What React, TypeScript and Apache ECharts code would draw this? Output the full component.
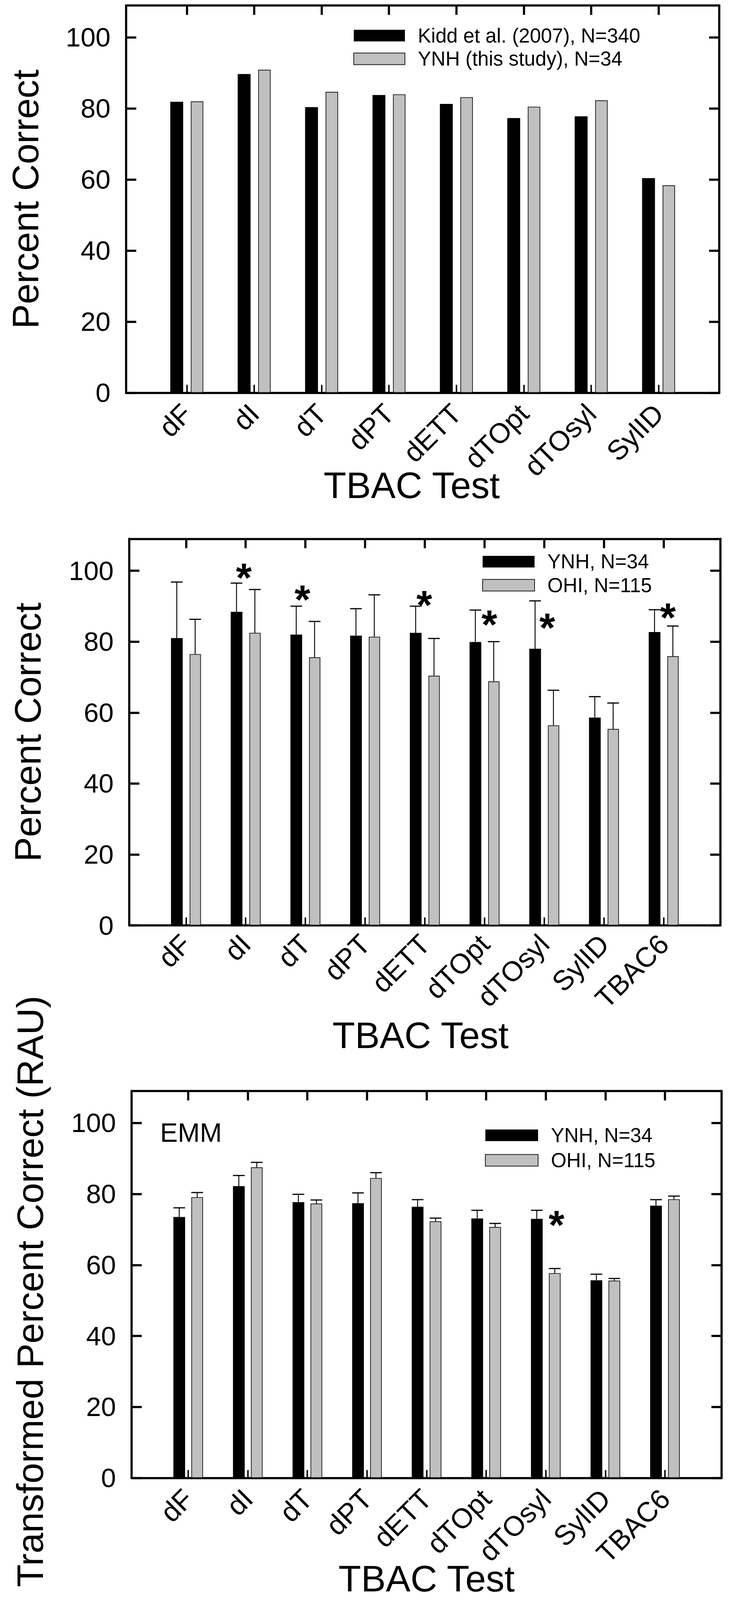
import React, { useEffect, useRef } from "react";
import * as echarts from "echarts";

const FONT = "'Liberation Sans', Arial, Helvetica, sans-serif";

// ---------- data ----------
const catsTop = ["dF", "dI", "dT", "dPT", "dETT", "dTOpt", "dTOsyl", "SylID"];
const catsLower = ["dF", "dI", "dT", "dPT", "dETT", "dTOpt", "dTOsyl", "SylID", "TBAC6"];

const kiddName = "Kidd et al. (2007), N=340";
const ynhStudyName = "YNH (this study), N=34";
const kiddValues = [81.9, 89.7, 80.4, 83.8, 81.3, 77.3, 77.8, 60.4];
const ynhStudyValues = [82.0, 90.9, 84.7, 84.0, 83.2, 80.5, 82.3, 58.4];

const ynhName = "YNH, N=34";
const ohiName = "OHI, N=115";

const pcYnh = [81.0, 88.4, 82.0, 81.7, 82.5, 79.9, 78.0, 58.6, 82.7];
const pcYnhErr = [96.8, 96.5, 90.0, 89.3, 90.0, 88.9, 91.5, 64.5, 89.0];
const pcOhi = [76.5, 82.5, 75.6, 81.4, 70.4, 68.8, 56.4, 55.4, 75.9];
const pcOhiErr = [86.3, 94.7, 85.7, 93.2, 80.9, 80.0, 66.3, 62.7, 84.4];
const pcStarX = [1.97, 2.95, 4.99, 6.08, 7.05, 9.07];
const pcStarY = [100.5, 94.4, 92.8, 87.3, 86.5, 89.3];

const emmYnh = [73.5, 82.2, 77.7, 77.4, 76.4, 73.1, 73.0, 55.7, 76.7];
const emmYnhErr = [76.1, 85.2, 79.9, 80.3, 78.4, 75.4, 75.4, 57.4, 78.4];
const emmOhi = [79.1, 87.5, 77.3, 84.5, 72.3, 70.7, 57.7, 55.6, 78.5];
const emmOhiErr = [80.4, 88.9, 78.3, 86.0, 73.2, 71.7, 59.0, 56.2, 79.4];
const emmStarX = [7.18];
const emmStarY = [73.8];

const yTicks = [0, 20, 40, 60, 80, 100];
const yMax = 109;

// ---------- layout (designed for 1867 x 4407) ----------
const W = 1867;
const H = 4407;
const BLACK = "#000";
const GRAY = "#c0c0c0";

const gridBoxes = [
  { left: 323, top: 15, width: 1519, height: 1067 },
  { left: 331, top: 1484, width: 1514, height: 1065 },
  { left: 337, top: 3005, width: 1511, height: 1066 },
];

function buildOption(sx: number, sy: number) {
  const sf = Math.min(sx, sy);
  const X = (v: number) => v * sx;
  const Y = (v: number) => v * sy;
  const F = (v: number) => v * sf;

  function xAxesFor(
    gridIndex: number,
    cats: string[],
    min: number,
    max: number,
    nameGap: number,
    namePadRight: number,
    labelMargin: number,
    labelPadTop: number
  ) {
    const pos = cats.map((_, i) => i + 1);
    return [
      {
        type: "value",
        gridIndex,
        min,
        max,
        position: "bottom",
        axisLine: { show: true, onZero: false, lineStyle: { color: BLACK, width: F(6) } },
        axisTick: { show: true, inside: true, length: Y(22), customValues: pos, lineStyle: { color: BLACK, width: F(4) } },
        axisLabel: {
          show: true,
          customValues: pos,
          formatter: (v: number) => cats[Math.round(v) - 1] ?? "",
          rotate: 45,
          margin: Y(labelMargin),
          padding: [F(labelPadTop), 0, 0, 0],
          fontSize: F(77),
          color: BLACK,
          fontFamily: FONT,
        },
        splitLine: { show: false },
        name: "TBAC Test",
        nameLocation: "middle",
        nameGap: Y(nameGap),
        nameMoveOverlap: false,
        nameTextStyle: { fontSize: F(102), color: BLACK, fontFamily: FONT, padding: [0, X(namePadRight), 0, 0] },
      },
      {
        type: "value",
        gridIndex,
        min,
        max,
        position: "top",
        axisLine: { show: true, onZero: false, lineStyle: { color: BLACK, width: F(6) } },
        axisTick: { show: true, inside: true, length: Y(26), customValues: pos, lineStyle: { color: BLACK, width: F(6) } },
        axisLabel: { show: false },
        splitLine: { show: false },
      },
    ];
  }

  function yAxesFor(gridIndex: number, name: string, nameGap: number, namePadRight: number) {
    return [
      {
        type: "value",
        gridIndex,
        min: 0,
        max: yMax,
        position: "left",
        axisLine: { show: true, onZero: false, lineStyle: { color: BLACK, width: F(6) } },
        axisTick: { show: true, inside: true, length: X(26), customValues: yTicks, lineStyle: { color: BLACK, width: F(6) } },
        axisLabel: { show: true, customValues: yTicks, fontSize: F(74), margin: X(40), color: BLACK, fontFamily: FONT },
        splitLine: { show: false },
        name,
        nameLocation: "middle",
        nameGap: X(nameGap),
        nameMoveOverlap: false,
        nameTextStyle: { fontSize: F(102), color: BLACK, fontFamily: FONT, padding: [0, Y(namePadRight), 0, 0] },
      },
      {
        type: "value",
        gridIndex,
        min: 0,
        max: yMax,
        position: "right",
        axisLine: { show: true, onZero: false, lineStyle: { color: BLACK, width: F(6) } },
        axisTick: { show: true, inside: true, length: X(26), customValues: yTicks, lineStyle: { color: BLACK, width: F(6) } },
        axisLabel: { show: false },
        splitLine: { show: false },
      },
    ];
  }

  function barSeries(name: string, axis: number, vals: number[], color: string, bordered: boolean, bw: number, gap: number) {
    return {
      type: "bar",
      name,
      xAxisIndex: axis,
      yAxisIndex: axis,
      data: vals.map((v, i) => [i + 1, v]),
      barWidth: X(bw),
      barGap: `${Math.round((gap / bw) * 100)}%`,
      itemStyle: { color, borderColor: bordered ? "#1a1a1a" : color, borderWidth: bordered ? F(2) : 0 },
      emphasis: { disabled: true },
      silent: true,
      z: 2,
    };
  }

  function errSeries(axis: number, vals: number[], errs: number[], side: number, bw: number, gap: number) {
    const off = (side * X(bw + gap)) / 2;
    const half = X(bw) / 2;
    return {
      type: "custom",
      xAxisIndex: axis,
      yAxisIndex: axis,
      silent: true,
      z: 3,
      data: vals.map((v, i) => [i + 1, v, errs[i]]),
      encode: { x: 0, y: [1, 2] },
      renderItem: (_p: any, api: any) => {
        const x = api.value(0);
        const p0 = api.coord([x, api.value(1)]);
        const p1 = api.coord([x, api.value(2)]);
        const cx = p0[0] + off;
        return {
          type: "group",
          children: [
            { type: "line", shape: { x1: cx, y1: p0[1], x2: cx, y2: p1[1] }, style: { stroke: BLACK, lineWidth: F(2.5) } },
            { type: "line", shape: { x1: cx - half, y1: p1[1], x2: cx + half, y2: p1[1] }, style: { stroke: BLACK, lineWidth: F(3.2) } },
          ],
        };
      },
    };
  }

  function starSeries(axis: number, xs: number[], ys: number[]) {
    const fs = F(112);
    return {
      type: "custom",
      xAxisIndex: axis,
      yAxisIndex: axis,
      silent: true,
      z: 4,
      data: xs.map((x, i) => [x, ys[i]]),
      renderItem: (_p: any, api: any) => {
        const c = api.coord([api.value(0), api.value(1)]);
        return {
          type: "text",
          x: c[0],
          y: c[1] + fs * 0.22,
          style: { text: "*", fontSize: fs, fontWeight: "bold", fontFamily: FONT, fill: BLACK, align: "center", verticalAlign: "middle" },
        };
      },
    };
  }

  function legendFor(names: string[], left: number, rowCenter: number, itemWidth: number, rowStep: number) {
    const fs = F(55);
    return {
      data: names,
      left: X(left),
      top: Y(rowCenter) - fs / 2,
      orient: "vertical",
      padding: 0,
      itemWidth: X(itemWidth),
      itemHeight: Y(32),
      itemGap: Y(rowStep) - fs,
      icon: "rect",
      selectedMode: false,
      textStyle: { fontSize: fs, lineHeight: fs, color: BLACK, fontFamily: FONT, padding: [0, 0, 0, X(28)] },
    };
  }

  const xAxis = [
    ...xAxesFor(0, catsTop, 0.1, 8.9, 203, 56, 44, 60),
    ...xAxesFor(1, catsLower, 0.05, 9.95, 251, 22, 38, 45),
    ...xAxesFor(2, catsLower, 0.05, 9.95, 226, 0, 44, 60),
  ];
  const yAxis = [
    ...yAxesFor(0, "Percent Correct", 211, 0),
    ...yAxesFor(1, "Percent Correct", 213, 0),
    ...yAxesFor(2, "Transformed Percent Correct (RAU)", 213, 38),
  ];
  const series = [
    barSeries(kiddName, 0, kiddValues, BLACK, false, 33, 19),
    barSeries(ynhStudyName, 0, ynhStudyValues, GRAY, true, 32, 19),

    barSeries(ynhName, 2, pcYnh, BLACK, false, 30, 17),
    barSeries(ohiName, 2, pcOhi, GRAY, true, 29, 17),
    errSeries(2, pcYnh, pcYnhErr, -1, 30, 17),
    errSeries(2, pcOhi, pcOhiErr, 1, 30, 17),
    starSeries(2, pcStarX, pcStarY),

    barSeries(ynhName, 4, emmYnh, BLACK, false, 30, 16),
    barSeries(ohiName, 4, emmOhi, GRAY, true, 30, 16),
    errSeries(4, emmYnh, emmYnhErr, -1, 30, 16),
    errSeries(4, emmOhi, emmOhiErr, 1, 30, 16),
    starSeries(4, emmStarX, emmStarY),
  ];
  return {
    animation: false,
    backgroundColor: "#fff",
    textStyle: { fontFamily: FONT },
    grid: gridBoxes.map((g) => ({
      left: X(g.left),
      top: Y(g.top),
      width: X(g.width),
      height: Y(g.height),
      containLabel: false,
      outerBoundsMode: "none",
    })),
    xAxis,
    yAxis,
    legend: [
      legendFor([kiddName, ynhStudyName], 905, 98, 131, 64),
      legendFor([ynhName, ohiName], 1235, 1547, 133, 65),
      legendFor([ynhName, ohiName], 1242, 3127, 135, 69),
    ],
    graphic: [
      {
        type: "text",
        left: X(410),
        top: Y(3083),
        style: { text: "EMM", fontSize: F(73), fontFamily: FONT, fill: BLACK },
      },
    ],
    series,
  };
}

export default function App() {
  const ref = useRef<HTMLDivElement>(null);
  useEffect(() => {
    const el = ref.current;
    if (!el) return;
    document.documentElement.style.overflow = "hidden";
    document.body.style.overflow = "hidden";
    const vw = window.innerWidth || W;
    const vh = window.innerHeight || H;
    const sx = Math.min(1, vw / W);
    const sy = Math.min(1, vh / H);
    el.style.width = `${Math.floor(W * sx)}px`;
    el.style.height = `${Math.floor(H * sy)}px`;
    const chart = echarts.init(el, null, { renderer: "svg" });
    chart.setOption(buildOption(sx, sy) as any);
    return () => chart.dispose();
  }, []);
  return <div ref={ref} style={{ position: "absolute", left: 0, top: 0, width: W, height: H, background: "#fff" }} />;
}
